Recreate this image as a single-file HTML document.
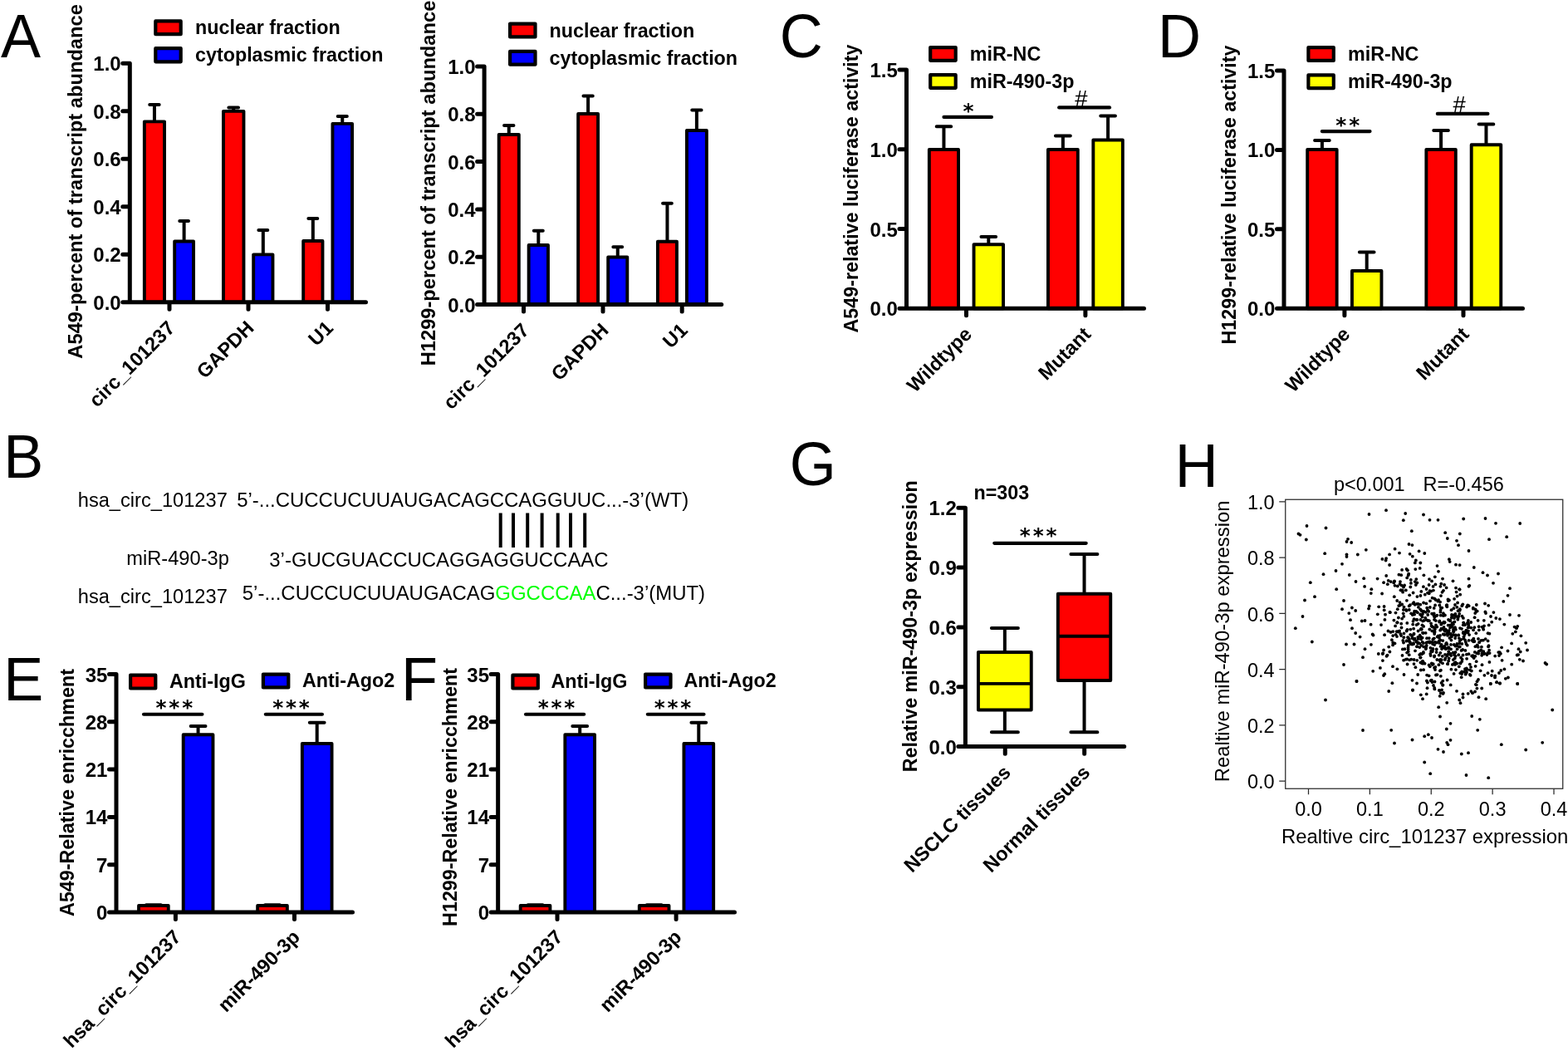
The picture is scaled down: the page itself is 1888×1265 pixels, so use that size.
<!DOCTYPE html>
<html><head><meta charset="utf-8"><style>html,body{margin:0;padding:0;background:#fff;}svg{display:block;}</style></head>
<body><svg width="1888" height="1265" viewBox="0 0 1888 1265">
<rect width="1888" height="1265" fill="#fff"/>
<path d="M185.95,144.40V125.90M180.22,125.90H191.68" stroke="#000" stroke-width="4.0" stroke-linecap="round" fill="none"/>
<rect x="173.85" y="146.35" width="24.20" height="217.40" fill="#f00" stroke="#000" stroke-width="3.9" stroke-linejoin="round"/>
<path d="M221.62,288.50V266.00M216.27,266.00H226.98" stroke="#000" stroke-width="4.0" stroke-linecap="round" fill="none"/>
<rect x="210.20" y="290.45" width="22.85" height="73.30" fill="#00f" stroke="#000" stroke-width="3.9" stroke-linejoin="round"/>
<path d="M281.20,131.90V129.60M275.39,129.60H287.01" stroke="#000" stroke-width="4.0" stroke-linecap="round" fill="none"/>
<rect x="268.95" y="133.85" width="24.50" height="229.90" fill="#f00" stroke="#000" stroke-width="3.9" stroke-linejoin="round"/>
<path d="M316.82,304.40V276.90M311.36,276.90H322.29" stroke="#000" stroke-width="4.0" stroke-linecap="round" fill="none"/>
<rect x="305.20" y="306.35" width="23.25" height="57.40" fill="#00f" stroke="#000" stroke-width="3.9" stroke-linejoin="round"/>
<path d="M376.82,288.10V263.10M371.36,263.10H382.29" stroke="#000" stroke-width="4.0" stroke-linecap="round" fill="none"/>
<rect x="365.20" y="290.05" width="23.25" height="73.70" fill="#f00" stroke="#000" stroke-width="3.9" stroke-linejoin="round"/>
<path d="M412.25,146.90V140.00M406.69,140.00H417.81" stroke="#000" stroke-width="4.0" stroke-linecap="round" fill="none"/>
<rect x="400.45" y="148.85" width="23.60" height="214.90" fill="#00f" stroke="#000" stroke-width="3.9" stroke-linejoin="round"/>
<path d="M156.30,363.75V76.20M156.30,363.75H147.80M156.30,306.24H147.80M156.30,248.73H147.80M156.30,191.22H147.80M156.30,133.71H147.80M156.30,76.20H147.80M148.20,363.75H440.50M204.00,363.75V372.25M299.00,363.75V372.25M394.50,363.75V372.25" stroke="#000" stroke-width="5.0" stroke-linecap="round" fill="none"/>
<text x="145.70" y="372.75" text-anchor="end" font-family="Liberation Sans, Arial, sans-serif" font-weight="bold" font-size="24">0.0</text>
<text x="145.70" y="315.24" text-anchor="end" font-family="Liberation Sans, Arial, sans-serif" font-weight="bold" font-size="24">0.2</text>
<text x="145.70" y="257.73" text-anchor="end" font-family="Liberation Sans, Arial, sans-serif" font-weight="bold" font-size="24">0.4</text>
<text x="145.70" y="200.22" text-anchor="end" font-family="Liberation Sans, Arial, sans-serif" font-weight="bold" font-size="24">0.6</text>
<text x="145.70" y="142.71" text-anchor="end" font-family="Liberation Sans, Arial, sans-serif" font-weight="bold" font-size="24">0.8</text>
<text x="145.70" y="85.20" text-anchor="end" font-family="Liberation Sans, Arial, sans-serif" font-weight="bold" font-size="24">1.0</text>
<text transform="translate(212.00,396.25) rotate(-45)" text-anchor="end" font-family="Liberation Sans, Arial, sans-serif" font-weight="bold" font-size="23.7">circ_101237</text>
<text transform="translate(307.00,396.25) rotate(-45)" text-anchor="end" font-family="Liberation Sans, Arial, sans-serif" font-weight="bold" font-size="23.7">GAPDH</text>
<text transform="translate(402.50,396.25) rotate(-45)" text-anchor="end" font-family="Liberation Sans, Arial, sans-serif" font-weight="bold" font-size="23.7">U1</text>
<text transform="translate(98.80,218.40) rotate(-90)" text-anchor="middle" font-family="Liberation Sans, Arial, sans-serif" font-weight="bold" font-size="23.7">A549-percent of transcript abundance</text>
<rect x="187.30" y="25.40" width="30.40" height="15.80" fill="#f00" stroke="#000" stroke-width="4.2" stroke-linejoin="round"/>
<text x="235.00" y="41.25" font-family="Liberation Sans, Arial, sans-serif" font-weight="bold" font-size="23.3">nuclear fraction</text>
<rect x="187.30" y="58.20" width="30.40" height="16.10" fill="#00f" stroke="#000" stroke-width="4.2" stroke-linejoin="round"/>
<text x="235.00" y="73.75" font-family="Liberation Sans, Arial, sans-serif" font-weight="bold" font-size="23.3">cytoplasmic fraction</text>
<path d="M612.75,160.00V151.00M607.05,151.00H618.45" stroke="#000" stroke-width="4.0" stroke-linecap="round" fill="none"/>
<rect x="600.70" y="161.95" width="24.10" height="204.55" fill="#f00" stroke="#000" stroke-width="3.9" stroke-linejoin="round"/>
<path d="M648.30,293.10V277.75M642.82,277.75H653.78" stroke="#000" stroke-width="4.0" stroke-linecap="round" fill="none"/>
<rect x="636.65" y="295.05" width="23.30" height="71.45" fill="#00f" stroke="#000" stroke-width="3.9" stroke-linejoin="round"/>
<path d="M708.10,135.00V115.40M702.46,115.40H713.75" stroke="#000" stroke-width="4.0" stroke-linecap="round" fill="none"/>
<rect x="696.15" y="136.95" width="23.90" height="229.55" fill="#f00" stroke="#000" stroke-width="3.9" stroke-linejoin="round"/>
<path d="M743.75,307.50V297.25M738.33,297.25H749.17" stroke="#000" stroke-width="4.0" stroke-linecap="round" fill="none"/>
<rect x="732.20" y="309.45" width="23.10" height="57.05" fill="#00f" stroke="#000" stroke-width="3.9" stroke-linejoin="round"/>
<path d="M803.45,288.75V244.75M798.05,244.75H808.85" stroke="#000" stroke-width="4.0" stroke-linecap="round" fill="none"/>
<rect x="791.95" y="290.70" width="23.00" height="75.80" fill="#f00" stroke="#000" stroke-width="3.9" stroke-linejoin="round"/>
<path d="M838.90,155.00V132.60M833.25,132.60H844.54" stroke="#000" stroke-width="4.0" stroke-linecap="round" fill="none"/>
<rect x="826.95" y="156.95" width="23.90" height="209.55" fill="#00f" stroke="#000" stroke-width="3.9" stroke-linejoin="round"/>
<path d="M583.10,366.50V80.00M583.10,366.50H574.60M583.10,309.20H574.60M583.10,251.90H574.60M583.10,194.60H574.60M583.10,137.30H574.60M583.10,80.00H574.60M574.90,366.50H868.75M630.50,366.50V375.00M726.00,366.50V375.00M821.20,366.50V375.00" stroke="#000" stroke-width="5.0" stroke-linecap="round" fill="none"/>
<text x="572.50" y="375.50" text-anchor="end" font-family="Liberation Sans, Arial, sans-serif" font-weight="bold" font-size="24">0.0</text>
<text x="572.50" y="318.20" text-anchor="end" font-family="Liberation Sans, Arial, sans-serif" font-weight="bold" font-size="24">0.2</text>
<text x="572.50" y="260.90" text-anchor="end" font-family="Liberation Sans, Arial, sans-serif" font-weight="bold" font-size="24">0.4</text>
<text x="572.50" y="203.60" text-anchor="end" font-family="Liberation Sans, Arial, sans-serif" font-weight="bold" font-size="24">0.6</text>
<text x="572.50" y="146.30" text-anchor="end" font-family="Liberation Sans, Arial, sans-serif" font-weight="bold" font-size="24">0.8</text>
<text x="572.50" y="89.00" text-anchor="end" font-family="Liberation Sans, Arial, sans-serif" font-weight="bold" font-size="24">1.0</text>
<text transform="translate(638.50,399.00) rotate(-45)" text-anchor="end" font-family="Liberation Sans, Arial, sans-serif" font-weight="bold" font-size="23.7">circ_101237</text>
<text transform="translate(734.00,399.00) rotate(-45)" text-anchor="end" font-family="Liberation Sans, Arial, sans-serif" font-weight="bold" font-size="23.7">GAPDH</text>
<text transform="translate(829.20,399.00) rotate(-45)" text-anchor="end" font-family="Liberation Sans, Arial, sans-serif" font-weight="bold" font-size="23.7">U1</text>
<text transform="translate(523.50,220.50) rotate(-90)" text-anchor="middle" font-family="Liberation Sans, Arial, sans-serif" font-weight="bold" font-size="23.7">H1299-percent of transcript abundance</text>
<rect x="614.10" y="28.60" width="30.40" height="15.80" fill="#f00" stroke="#000" stroke-width="4.2" stroke-linejoin="round"/>
<text x="661.50" y="44.50" font-family="Liberation Sans, Arial, sans-serif" font-weight="bold" font-size="23.3">nuclear fraction</text>
<rect x="614.10" y="61.90" width="30.40" height="15.80" fill="#00f" stroke="#000" stroke-width="4.2" stroke-linejoin="round"/>
<text x="661.50" y="77.50" font-family="Liberation Sans, Arial, sans-serif" font-weight="bold" font-size="23.3">cytoplasmic fraction</text>
<path d="M1136.45,178.10V152.25M1127.70,152.25H1145.20" stroke="#000" stroke-width="4.0" stroke-linecap="round" fill="none"/>
<rect x="1118.85" y="180.05" width="35.20" height="191.20" fill="#f00" stroke="#000" stroke-width="3.9" stroke-linejoin="round"/>
<path d="M1190.30,292.25V285.00M1181.46,285.00H1199.13" stroke="#000" stroke-width="4.0" stroke-linecap="round" fill="none"/>
<rect x="1172.55" y="294.20" width="35.50" height="77.05" fill="#ff0" stroke="#000" stroke-width="3.9" stroke-linejoin="round"/>
<path d="M1279.88,178.10V163.50M1270.94,163.50H1288.81" stroke="#000" stroke-width="4.0" stroke-linecap="round" fill="none"/>
<rect x="1261.95" y="180.05" width="35.85" height="191.20" fill="#f00" stroke="#000" stroke-width="3.9" stroke-linejoin="round"/>
<path d="M1334.10,166.60V139.40M1325.26,139.40H1342.93" stroke="#000" stroke-width="4.0" stroke-linecap="round" fill="none"/>
<rect x="1316.35" y="168.55" width="35.50" height="202.70" fill="#ff0" stroke="#000" stroke-width="3.9" stroke-linejoin="round"/>
<path d="M1091.50,371.25V84.00M1091.50,371.25H1083.00M1091.50,275.50H1083.00M1091.50,179.75H1083.00M1091.50,84.00H1083.00M1084.00,371.25H1377.50M1163.50,371.25V379.75M1306.90,371.25V379.75" stroke="#000" stroke-width="5.0" stroke-linecap="round" fill="none"/>
<text x="1080.90" y="380.25" text-anchor="end" font-family="Liberation Sans, Arial, sans-serif" font-weight="bold" font-size="24">0.0</text>
<text x="1080.90" y="284.50" text-anchor="end" font-family="Liberation Sans, Arial, sans-serif" font-weight="bold" font-size="24">0.5</text>
<text x="1080.90" y="188.75" text-anchor="end" font-family="Liberation Sans, Arial, sans-serif" font-weight="bold" font-size="24">1.0</text>
<text x="1080.90" y="93.00" text-anchor="end" font-family="Liberation Sans, Arial, sans-serif" font-weight="bold" font-size="24">1.5</text>
<text transform="translate(1171.50,403.75) rotate(-45)" text-anchor="end" font-family="Liberation Sans, Arial, sans-serif" font-weight="bold" font-size="23.7">Wildtype</text>
<text transform="translate(1314.90,403.75) rotate(-45)" text-anchor="end" font-family="Liberation Sans, Arial, sans-serif" font-weight="bold" font-size="23.7">Mutant</text>
<text transform="translate(1032.50,227.00) rotate(-90)" text-anchor="middle" font-family="Liberation Sans, Arial, sans-serif" font-weight="bold" font-size="23.3">A549-relative luciferase activity</text>
<rect x="1120.20" y="57.10" width="30.50" height="15.70" fill="#f00" stroke="#000" stroke-width="4.2" stroke-linejoin="round"/>
<text x="1167.80" y="72.50" font-family="Liberation Sans, Arial, sans-serif" font-weight="bold" font-size="23.3">miR-NC</text>
<rect x="1120.20" y="90.20" width="30.50" height="15.60" fill="#ff0" stroke="#000" stroke-width="4.2" stroke-linejoin="round"/>
<text x="1167.80" y="105.60" font-family="Liberation Sans, Arial, sans-serif" font-weight="bold" font-size="23.3">miR-490-3p</text>
<path d="M1136.50,140.90H1193.90" stroke="#000" stroke-width="4.2" stroke-linecap="round"/>
<text x="1166.10" y="141.50" text-anchor="middle" font-family="DejaVu Sans, sans-serif" font-weight="bold" font-size="24.8">*</text>
<path d="M1275.20,129.40H1336.00" stroke="#000" stroke-width="4.2" stroke-linecap="round"/>
<text x="1301.80" y="127.80" text-anchor="middle" font-family="Liberation Sans, Arial, sans-serif" font-size="27.5">#</text>
<path d="M1591.92,178.10V169.00M1583.10,169.00H1600.75" stroke="#000" stroke-width="4.0" stroke-linecap="round" fill="none"/>
<rect x="1574.20" y="180.05" width="35.45" height="191.20" fill="#f00" stroke="#000" stroke-width="3.9" stroke-linejoin="round"/>
<path d="M1645.70,324.00V303.50M1636.87,303.50H1654.54" stroke="#000" stroke-width="4.0" stroke-linecap="round" fill="none"/>
<rect x="1627.95" y="325.95" width="35.50" height="45.30" fill="#ff0" stroke="#000" stroke-width="3.9" stroke-linejoin="round"/>
<path d="M1735.08,178.10V157.10M1726.25,157.10H1743.90" stroke="#000" stroke-width="4.0" stroke-linecap="round" fill="none"/>
<rect x="1717.35" y="180.05" width="35.45" height="191.20" fill="#f00" stroke="#000" stroke-width="3.9" stroke-linejoin="round"/>
<path d="M1789.47,172.25V149.60M1780.63,149.60H1798.32" stroke="#000" stroke-width="4.0" stroke-linecap="round" fill="none"/>
<rect x="1771.70" y="174.20" width="35.55" height="197.05" fill="#ff0" stroke="#000" stroke-width="3.9" stroke-linejoin="round"/>
<path d="M1546.00,371.25V85.00M1546.00,371.25H1537.50M1546.00,275.83H1537.50M1546.00,180.42H1537.50M1546.00,85.00H1537.50M1539.00,371.25H1833.50M1618.90,371.25V379.75M1762.00,371.25V379.75" stroke="#000" stroke-width="5.0" stroke-linecap="round" fill="none"/>
<text x="1535.40" y="380.25" text-anchor="end" font-family="Liberation Sans, Arial, sans-serif" font-weight="bold" font-size="24">0.0</text>
<text x="1535.40" y="284.83" text-anchor="end" font-family="Liberation Sans, Arial, sans-serif" font-weight="bold" font-size="24">0.5</text>
<text x="1535.40" y="189.42" text-anchor="end" font-family="Liberation Sans, Arial, sans-serif" font-weight="bold" font-size="24">1.0</text>
<text x="1535.40" y="94.00" text-anchor="end" font-family="Liberation Sans, Arial, sans-serif" font-weight="bold" font-size="24">1.5</text>
<text transform="translate(1626.90,403.75) rotate(-45)" text-anchor="end" font-family="Liberation Sans, Arial, sans-serif" font-weight="bold" font-size="23.7">Wildtype</text>
<text transform="translate(1770.00,403.75) rotate(-45)" text-anchor="end" font-family="Liberation Sans, Arial, sans-serif" font-weight="bold" font-size="23.7">Mutant</text>
<text transform="translate(1488.40,234.50) rotate(-90)" text-anchor="middle" font-family="Liberation Sans, Arial, sans-serif" font-weight="bold" font-size="23.3">H1299-relative luciferase activity</text>
<rect x="1575.40" y="57.10" width="30.40" height="15.80" fill="#f00" stroke="#000" stroke-width="4.2" stroke-linejoin="round"/>
<text x="1623.00" y="72.50" font-family="Liberation Sans, Arial, sans-serif" font-weight="bold" font-size="23.3">miR-NC</text>
<rect x="1575.40" y="90.30" width="30.40" height="15.80" fill="#ff0" stroke="#000" stroke-width="4.2" stroke-linejoin="round"/>
<text x="1623.00" y="105.60" font-family="Liberation Sans, Arial, sans-serif" font-weight="bold" font-size="23.3">miR-490-3p</text>
<path d="M1591.85,158.10H1649.50" stroke="#000" stroke-width="4.2" stroke-linecap="round"/>
<text x="1614.85" y="159.00" text-anchor="middle" font-family="DejaVu Sans, sans-serif" font-weight="bold" font-size="24.8">*</text>
<text x="1630.85" y="159.00" text-anchor="middle" font-family="DejaVu Sans, sans-serif" font-weight="bold" font-size="24.8">*</text>
<path d="M1730.85,136.90H1791.40" stroke="#000" stroke-width="4.2" stroke-linecap="round"/>
<text x="1757.15" y="135.20" text-anchor="middle" font-family="Liberation Sans, Arial, sans-serif" font-size="27.5">#</text>
<path d="M176.01,1089.20H193.79" stroke="#000" stroke-width="4.0" stroke-linecap="round" fill="none"/>
<rect x="167.05" y="1090.05" width="35.70" height="7.95" fill="#f00" stroke="#000" stroke-width="3.9" stroke-linejoin="round"/>
<path d="M238.57,882.25V874.00M229.67,874.00H247.48" stroke="#000" stroke-width="4.0" stroke-linecap="round" fill="none"/>
<rect x="220.70" y="884.20" width="35.75" height="213.80" fill="#00f" stroke="#000" stroke-width="3.9" stroke-linejoin="round"/>
<path d="M319.11,1089.20H336.89" stroke="#000" stroke-width="4.0" stroke-linecap="round" fill="none"/>
<rect x="310.15" y="1090.05" width="35.70" height="7.95" fill="#f00" stroke="#000" stroke-width="3.9" stroke-linejoin="round"/>
<path d="M381.70,893.10V869.75M372.81,869.75H390.59" stroke="#000" stroke-width="4.0" stroke-linecap="round" fill="none"/>
<rect x="363.85" y="895.05" width="35.70" height="202.95" fill="#00f" stroke="#000" stroke-width="3.9" stroke-linejoin="round"/>
<path d="M140.00,1098.00V811.50M140.00,1098.00H131.50M140.00,1040.70H131.50M140.00,983.40H131.50M140.00,926.10H131.50M140.00,868.80H131.50M140.00,811.50H131.50M132.50,1098.00H424.50M211.40,1098.00V1106.50M354.50,1098.00V1106.50" stroke="#000" stroke-width="5.0" stroke-linecap="round" fill="none"/>
<text x="129.40" y="1107.00" text-anchor="end" font-family="Liberation Sans, Arial, sans-serif" font-weight="bold" font-size="24">0</text>
<text x="129.40" y="1049.70" text-anchor="end" font-family="Liberation Sans, Arial, sans-serif" font-weight="bold" font-size="24">7</text>
<text x="129.40" y="992.40" text-anchor="end" font-family="Liberation Sans, Arial, sans-serif" font-weight="bold" font-size="24">14</text>
<text x="129.40" y="935.10" text-anchor="end" font-family="Liberation Sans, Arial, sans-serif" font-weight="bold" font-size="24">21</text>
<text x="129.40" y="877.80" text-anchor="end" font-family="Liberation Sans, Arial, sans-serif" font-weight="bold" font-size="24">28</text>
<text x="129.40" y="820.50" text-anchor="end" font-family="Liberation Sans, Arial, sans-serif" font-weight="bold" font-size="24">35</text>
<text transform="translate(219.40,1129.20) rotate(-45)" text-anchor="end" font-family="Liberation Sans, Arial, sans-serif" font-weight="bold" font-size="23.7">hsa_circ_101237</text>
<text transform="translate(362.50,1129.20) rotate(-45)" text-anchor="end" font-family="Liberation Sans, Arial, sans-serif" font-weight="bold" font-size="23.7">miR-490-3p</text>
<text transform="translate(88.75,954.00) rotate(-90)" text-anchor="middle" font-family="Liberation Sans, Arial, sans-serif" font-weight="bold" font-size="23.3">A549-Relative enricchment</text>
<rect x="157.10" y="812.70" width="30.20" height="15.80" fill="#f00" stroke="#000" stroke-width="4.2" stroke-linejoin="round"/>
<text x="204.00" y="827.50" font-family="Liberation Sans, Arial, sans-serif" font-weight="bold" font-size="23.3">Anti-IgG</text>
<rect x="316.90" y="811.60" width="30.40" height="15.80" fill="#00f" stroke="#000" stroke-width="4.2" stroke-linejoin="round"/>
<text x="364.00" y="826.80" font-family="Liberation Sans, Arial, sans-serif" font-weight="bold" font-size="23.3">Anti-Ago2</text>
<path d="M173.00,859.75H243.40" stroke="#000" stroke-width="4.2" stroke-linecap="round"/>
<text x="193.90" y="860.40" text-anchor="middle" font-family="DejaVu Sans, sans-serif" font-weight="bold" font-size="24.8">*</text>
<text x="209.80" y="860.40" text-anchor="middle" font-family="DejaVu Sans, sans-serif" font-weight="bold" font-size="24.8">*</text>
<text x="225.70" y="860.40" text-anchor="middle" font-family="DejaVu Sans, sans-serif" font-weight="bold" font-size="24.8">*</text>
<path d="M319.85,859.75H387.90" stroke="#000" stroke-width="4.2" stroke-linecap="round"/>
<text x="334.85" y="860.30" text-anchor="middle" font-family="DejaVu Sans, sans-serif" font-weight="bold" font-size="24.8">*</text>
<text x="350.60" y="860.30" text-anchor="middle" font-family="DejaVu Sans, sans-serif" font-weight="bold" font-size="24.8">*</text>
<text x="366.35" y="860.30" text-anchor="middle" font-family="DejaVu Sans, sans-serif" font-weight="bold" font-size="24.8">*</text>
<path d="M635.66,1089.20H653.44" stroke="#000" stroke-width="4.0" stroke-linecap="round" fill="none"/>
<rect x="626.70" y="1090.05" width="35.70" height="7.95" fill="#f00" stroke="#000" stroke-width="3.9" stroke-linejoin="round"/>
<path d="M698.20,882.25V874.00M689.31,874.00H707.09" stroke="#000" stroke-width="4.0" stroke-linecap="round" fill="none"/>
<rect x="680.35" y="884.20" width="35.70" height="213.80" fill="#00f" stroke="#000" stroke-width="3.9" stroke-linejoin="round"/>
<path d="M778.76,1089.20H796.54" stroke="#000" stroke-width="4.0" stroke-linecap="round" fill="none"/>
<rect x="769.80" y="1090.05" width="35.70" height="7.95" fill="#f00" stroke="#000" stroke-width="3.9" stroke-linejoin="round"/>
<path d="M841.30,893.10V869.75M832.41,869.75H850.19" stroke="#000" stroke-width="4.0" stroke-linecap="round" fill="none"/>
<rect x="823.45" y="895.05" width="35.70" height="202.95" fill="#00f" stroke="#000" stroke-width="3.9" stroke-linejoin="round"/>
<path d="M599.65,1098.00V811.50M599.65,1098.00H591.15M599.65,1040.70H591.15M599.65,983.40H591.15M599.65,926.10H591.15M599.65,868.80H591.15M599.65,811.50H591.15M592.10,1098.00H884.50M671.00,1098.00V1106.50M814.10,1098.00V1106.50" stroke="#000" stroke-width="5.0" stroke-linecap="round" fill="none"/>
<text x="589.05" y="1107.00" text-anchor="end" font-family="Liberation Sans, Arial, sans-serif" font-weight="bold" font-size="24">0</text>
<text x="589.05" y="1049.70" text-anchor="end" font-family="Liberation Sans, Arial, sans-serif" font-weight="bold" font-size="24">7</text>
<text x="589.05" y="992.40" text-anchor="end" font-family="Liberation Sans, Arial, sans-serif" font-weight="bold" font-size="24">14</text>
<text x="589.05" y="935.10" text-anchor="end" font-family="Liberation Sans, Arial, sans-serif" font-weight="bold" font-size="24">21</text>
<text x="589.05" y="877.80" text-anchor="end" font-family="Liberation Sans, Arial, sans-serif" font-weight="bold" font-size="24">28</text>
<text x="589.05" y="820.50" text-anchor="end" font-family="Liberation Sans, Arial, sans-serif" font-weight="bold" font-size="24">35</text>
<text transform="translate(679.00,1129.20) rotate(-45)" text-anchor="end" font-family="Liberation Sans, Arial, sans-serif" font-weight="bold" font-size="23.7">hsa_circ_101237</text>
<text transform="translate(822.10,1129.20) rotate(-45)" text-anchor="end" font-family="Liberation Sans, Arial, sans-serif" font-weight="bold" font-size="23.7">miR-490-3p</text>
<text transform="translate(550.00,959.50) rotate(-90)" text-anchor="middle" font-family="Liberation Sans, Arial, sans-serif" font-weight="bold" font-size="23.3">H1299-Relative enricchment</text>
<rect x="617.40" y="812.70" width="30.40" height="15.80" fill="#f00" stroke="#000" stroke-width="4.2" stroke-linejoin="round"/>
<text x="663.50" y="827.50" font-family="Liberation Sans, Arial, sans-serif" font-weight="bold" font-size="23.3">Anti-IgG</text>
<rect x="777.10" y="811.60" width="30.40" height="15.80" fill="#00f" stroke="#000" stroke-width="4.2" stroke-linejoin="round"/>
<text x="823.50" y="826.80" font-family="Liberation Sans, Arial, sans-serif" font-weight="bold" font-size="23.3">Anti-Ago2</text>
<path d="M633.00,859.75H703.15" stroke="#000" stroke-width="4.2" stroke-linecap="round"/>
<text x="654.35" y="860.40" text-anchor="middle" font-family="DejaVu Sans, sans-serif" font-weight="bold" font-size="24.8">*</text>
<text x="670.10" y="860.40" text-anchor="middle" font-family="DejaVu Sans, sans-serif" font-weight="bold" font-size="24.8">*</text>
<text x="685.85" y="860.40" text-anchor="middle" font-family="DejaVu Sans, sans-serif" font-weight="bold" font-size="24.8">*</text>
<path d="M779.85,859.75H847.50" stroke="#000" stroke-width="4.2" stroke-linecap="round"/>
<text x="794.35" y="860.40" text-anchor="middle" font-family="DejaVu Sans, sans-serif" font-weight="bold" font-size="24.8">*</text>
<text x="810.10" y="860.40" text-anchor="middle" font-family="DejaVu Sans, sans-serif" font-weight="bold" font-size="24.8">*</text>
<text x="825.85" y="860.40" text-anchor="middle" font-family="DejaVu Sans, sans-serif" font-weight="bold" font-size="24.8">*</text>
<path d="M1209.85,756.10V881.30M1193.90,756.10H1225.90M1193.90,881.30H1225.90" stroke="#000" stroke-width="4" stroke-linecap="round" fill="none"/>
<rect x="1177.95" y="785.05" width="63.80" height="69.40" fill="#ff0" stroke="#000" stroke-width="3.9" stroke-linejoin="round"/>
<path d="M1177.95,822.90H1241.75" stroke="#000" stroke-width="3.9"/>
<path d="M1305.55,667.10V881.30M1289.40,667.10H1321.40M1289.40,881.30H1321.40" stroke="#000" stroke-width="4" stroke-linecap="round" fill="none"/>
<rect x="1273.85" y="714.75" width="63.40" height="104.20" fill="#f00" stroke="#000" stroke-width="3.9" stroke-linejoin="round"/>
<path d="M1273.85,765.80H1337.25" stroke="#000" stroke-width="3.9"/>
<path d="M1162.4,898.6V611.25M1162.4,898.60H1153.9M1162.4,826.76H1153.9M1162.4,754.92H1153.9M1162.4,683.09H1153.9M1162.4,611.25H1153.9M1154.9,898.6H1353.7M1210.25,898.6V907.2M1305.7,898.6V907.2" stroke="#000" stroke-width="5" stroke-linecap="round" fill="none"/>
<text x="1151.80" y="907.60" text-anchor="end" font-family="Liberation Sans, Arial, sans-serif" font-weight="bold" font-size="24">0.0</text>
<text x="1151.80" y="835.76" text-anchor="end" font-family="Liberation Sans, Arial, sans-serif" font-weight="bold" font-size="24">0.3</text>
<text x="1151.80" y="763.92" text-anchor="end" font-family="Liberation Sans, Arial, sans-serif" font-weight="bold" font-size="24">0.6</text>
<text x="1151.80" y="692.09" text-anchor="end" font-family="Liberation Sans, Arial, sans-serif" font-weight="bold" font-size="24">0.9</text>
<text x="1151.80" y="620.25" text-anchor="end" font-family="Liberation Sans, Arial, sans-serif" font-weight="bold" font-size="24">1.2</text>
<path d="M1197.30,653.80H1307.70" stroke="#000" stroke-width="4.2" stroke-linecap="round"/>
<text x="1234.30" y="653.05" text-anchor="middle" font-family="DejaVu Sans, sans-serif" font-weight="bold" font-size="24.8">*</text>
<text x="1250.20" y="653.05" text-anchor="middle" font-family="DejaVu Sans, sans-serif" font-weight="bold" font-size="24.8">*</text>
<text x="1266.00" y="653.05" text-anchor="middle" font-family="DejaVu Sans, sans-serif" font-weight="bold" font-size="24.8">*</text>
<text x="1172.5" y="601" font-family="Liberation Sans, Arial, sans-serif" font-weight="bold" font-size="23.3">n=303</text>
<text transform="translate(1104,753.8) rotate(-90)" text-anchor="middle" font-family="Liberation Sans, Arial, sans-serif" font-weight="bold" font-size="23.3">Relative miR-490-3p expression</text>
<text transform="translate(1218.25,931.1) rotate(-45)" text-anchor="end" font-family="Liberation Sans, Arial, sans-serif" font-weight="bold" font-size="23.7">NSCLC tissues</text>
<text transform="translate(1313.7,931.1) rotate(-45)" text-anchor="end" font-family="Liberation Sans, Arial, sans-serif" font-weight="bold" font-size="23.7">Normal tissues</text>
<g fill="#000"><circle cx="1694.3" cy="749.9" r="1.9"/><circle cx="1776.3" cy="789.8" r="1.9"/><circle cx="1690.4" cy="762.4" r="1.9"/><circle cx="1757.2" cy="738.8" r="1.9"/><circle cx="1694.6" cy="799.5" r="1.9"/><circle cx="1765.6" cy="758.7" r="1.9"/><circle cx="1796.2" cy="748.7" r="1.9"/><circle cx="1735.7" cy="776.0" r="1.9"/><circle cx="1710.5" cy="797.5" r="1.9"/><circle cx="1743.0" cy="764.8" r="1.9"/><circle cx="1726.8" cy="768.3" r="1.9"/><circle cx="1749.6" cy="749.6" r="1.9"/><circle cx="1780.0" cy="768.9" r="1.9"/><circle cx="1673.4" cy="736.9" r="1.9"/><circle cx="1687.1" cy="765.0" r="1.9"/><circle cx="1685.1" cy="759.5" r="1.9"/><circle cx="1710.7" cy="757.5" r="1.9"/><circle cx="1770.6" cy="812.8" r="1.9"/><circle cx="1728.9" cy="747.1" r="1.9"/><circle cx="1736.1" cy="757.0" r="1.9"/><circle cx="1743.3" cy="799.0" r="1.9"/><circle cx="1760.3" cy="796.0" r="1.9"/><circle cx="1808.6" cy="794.8" r="1.9"/><circle cx="1764.8" cy="772.6" r="1.9"/><circle cx="1774.7" cy="792.1" r="1.9"/><circle cx="1776.4" cy="778.2" r="1.9"/><circle cx="1786.2" cy="757.7" r="1.9"/><circle cx="1744.7" cy="792.5" r="1.9"/><circle cx="1767.9" cy="759.3" r="1.9"/><circle cx="1800.2" cy="789.6" r="1.9"/><circle cx="1760.0" cy="756.8" r="1.9"/><circle cx="1750.0" cy="764.0" r="1.9"/><circle cx="1746.2" cy="787.4" r="1.9"/><circle cx="1702.0" cy="774.1" r="1.9"/><circle cx="1761.3" cy="727.3" r="1.9"/><circle cx="1775.6" cy="743.2" r="1.9"/><circle cx="1768.2" cy="752.5" r="1.9"/><circle cx="1746.3" cy="746.7" r="1.9"/><circle cx="1805.0" cy="789.0" r="1.9"/><circle cx="1713.9" cy="706.2" r="1.9"/><circle cx="1748.5" cy="741.2" r="1.9"/><circle cx="1771.8" cy="807.5" r="1.9"/><circle cx="1746.0" cy="747.3" r="1.9"/><circle cx="1744.2" cy="795.5" r="1.9"/><circle cx="1735.4" cy="756.7" r="1.9"/><circle cx="1780.7" cy="754.2" r="1.9"/><circle cx="1741.7" cy="728.7" r="1.9"/><circle cx="1711.4" cy="740.4" r="1.9"/><circle cx="1780.6" cy="783.9" r="1.9"/><circle cx="1673.4" cy="784.5" r="1.9"/><circle cx="1748.3" cy="754.3" r="1.9"/><circle cx="1796.7" cy="807.7" r="1.9"/><circle cx="1739.6" cy="749.3" r="1.9"/><circle cx="1733.7" cy="837.8" r="1.9"/><circle cx="1769.3" cy="704.8" r="1.9"/><circle cx="1776.6" cy="801.8" r="1.9"/><circle cx="1724.3" cy="759.4" r="1.9"/><circle cx="1831.4" cy="765.3" r="1.9"/><circle cx="1743.7" cy="723.0" r="1.9"/><circle cx="1736.5" cy="712.8" r="1.9"/><circle cx="1714.2" cy="778.4" r="1.9"/><circle cx="1766.1" cy="730.6" r="1.9"/><circle cx="1763.7" cy="763.5" r="1.9"/><circle cx="1672.2" cy="778.6" r="1.9"/><circle cx="1716.9" cy="780.6" r="1.9"/><circle cx="1761.2" cy="782.0" r="1.9"/><circle cx="1768.6" cy="770.8" r="1.9"/><circle cx="1727.2" cy="763.0" r="1.9"/><circle cx="1755.3" cy="745.7" r="1.9"/><circle cx="1721.9" cy="772.5" r="1.9"/><circle cx="1689.1" cy="712.7" r="1.9"/><circle cx="1793.1" cy="782.6" r="1.9"/><circle cx="1721.8" cy="802.3" r="1.9"/><circle cx="1745.8" cy="763.4" r="1.9"/><circle cx="1820.1" cy="774.4" r="1.9"/><circle cx="1710.8" cy="836.3" r="1.9"/><circle cx="1791.6" cy="771.4" r="1.9"/><circle cx="1680.1" cy="753.4" r="1.9"/><circle cx="1780.8" cy="758.3" r="1.9"/><circle cx="1733.0" cy="830.9" r="1.9"/><circle cx="1734.8" cy="813.8" r="1.9"/><circle cx="1761.5" cy="835.5" r="1.9"/><circle cx="1706.0" cy="726.9" r="1.9"/><circle cx="1800.2" cy="813.5" r="1.9"/><circle cx="1682.8" cy="733.2" r="1.9"/><circle cx="1771.0" cy="802.9" r="1.9"/><circle cx="1713.9" cy="784.9" r="1.9"/><circle cx="1695.6" cy="781.5" r="1.9"/><circle cx="1785.7" cy="755.6" r="1.9"/><circle cx="1815.5" cy="783.5" r="1.9"/><circle cx="1734.5" cy="796.8" r="1.9"/><circle cx="1734.9" cy="806.7" r="1.9"/><circle cx="1673.9" cy="737.1" r="1.9"/><circle cx="1792.7" cy="752.4" r="1.9"/><circle cx="1788.7" cy="769.1" r="1.9"/><circle cx="1713.0" cy="761.6" r="1.9"/><circle cx="1725.7" cy="799.2" r="1.9"/><circle cx="1677.0" cy="802.2" r="1.9"/><circle cx="1739.3" cy="764.0" r="1.9"/><circle cx="1722.0" cy="723.3" r="1.9"/><circle cx="1746.1" cy="752.3" r="1.9"/><circle cx="1784.5" cy="800.2" r="1.9"/><circle cx="1666.7" cy="734.3" r="1.9"/><circle cx="1714.1" cy="725.5" r="1.9"/><circle cx="1752.0" cy="740.7" r="1.9"/><circle cx="1767.7" cy="834.8" r="1.9"/><circle cx="1766.1" cy="792.8" r="1.9"/><circle cx="1711.6" cy="776.8" r="1.9"/><circle cx="1767.9" cy="746.9" r="1.9"/><circle cx="1776.9" cy="823.8" r="1.9"/><circle cx="1717.7" cy="835.4" r="1.9"/><circle cx="1735.7" cy="750.1" r="1.9"/><circle cx="1711.3" cy="756.6" r="1.9"/><circle cx="1748.0" cy="740.0" r="1.9"/><circle cx="1709.2" cy="788.1" r="1.9"/><circle cx="1711.3" cy="711.9" r="1.9"/><circle cx="1779.8" cy="778.8" r="1.9"/><circle cx="1747.8" cy="766.5" r="1.9"/><circle cx="1747.0" cy="775.9" r="1.9"/><circle cx="1727.2" cy="803.7" r="1.9"/><circle cx="1715.8" cy="715.7" r="1.9"/><circle cx="1759.3" cy="769.8" r="1.9"/><circle cx="1731.6" cy="765.4" r="1.9"/><circle cx="1752.6" cy="789.8" r="1.9"/><circle cx="1746.8" cy="762.6" r="1.9"/><circle cx="1711.9" cy="787.4" r="1.9"/><circle cx="1702.6" cy="794.0" r="1.9"/><circle cx="1729.6" cy="785.0" r="1.9"/><circle cx="1716.6" cy="761.9" r="1.9"/><circle cx="1781.2" cy="773.1" r="1.9"/><circle cx="1734.3" cy="785.8" r="1.9"/><circle cx="1734.7" cy="740.7" r="1.9"/><circle cx="1724.9" cy="800.1" r="1.9"/><circle cx="1692.8" cy="793.7" r="1.9"/><circle cx="1688.2" cy="727.5" r="1.9"/><circle cx="1752.6" cy="777.7" r="1.9"/><circle cx="1793.4" cy="796.9" r="1.9"/><circle cx="1767.3" cy="749.3" r="1.9"/><circle cx="1682.4" cy="805.3" r="1.9"/><circle cx="1705.2" cy="736.0" r="1.9"/><circle cx="1787.4" cy="812.8" r="1.9"/><circle cx="1778.2" cy="786.2" r="1.9"/><circle cx="1725.0" cy="782.5" r="1.9"/><circle cx="1727.5" cy="820.5" r="1.9"/><circle cx="1702.5" cy="799.1" r="1.9"/><circle cx="1757.6" cy="709.5" r="1.9"/><circle cx="1675.9" cy="770.2" r="1.9"/><circle cx="1704.8" cy="704.0" r="1.9"/><circle cx="1760.6" cy="793.6" r="1.9"/><circle cx="1774.1" cy="758.3" r="1.9"/><circle cx="1679.5" cy="774.4" r="1.9"/><circle cx="1730.7" cy="766.5" r="1.9"/><circle cx="1744.4" cy="779.4" r="1.9"/><circle cx="1746.5" cy="787.0" r="1.9"/><circle cx="1706.4" cy="718.1" r="1.9"/><circle cx="1752.8" cy="757.7" r="1.9"/><circle cx="1680.6" cy="763.8" r="1.9"/><circle cx="1769.8" cy="811.8" r="1.9"/><circle cx="1780.1" cy="786.7" r="1.9"/><circle cx="1754.4" cy="774.9" r="1.9"/><circle cx="1747.6" cy="734.2" r="1.9"/><circle cx="1724.6" cy="719.7" r="1.9"/><circle cx="1710.6" cy="791.4" r="1.9"/><circle cx="1765.8" cy="804.4" r="1.9"/><circle cx="1725.8" cy="739.4" r="1.9"/><circle cx="1784.2" cy="828.5" r="1.9"/><circle cx="1758.2" cy="715.7" r="1.9"/><circle cx="1783.6" cy="782.9" r="1.9"/><circle cx="1717.3" cy="773.7" r="1.9"/><circle cx="1696.9" cy="769.4" r="1.9"/><circle cx="1732.6" cy="771.7" r="1.9"/><circle cx="1783.2" cy="782.5" r="1.9"/><circle cx="1685.7" cy="728.5" r="1.9"/><circle cx="1699.9" cy="775.3" r="1.9"/><circle cx="1734.6" cy="777.9" r="1.9"/><circle cx="1702.5" cy="769.8" r="1.9"/><circle cx="1820.2" cy="799.7" r="1.9"/><circle cx="1734.5" cy="734.4" r="1.9"/><circle cx="1767.0" cy="750.4" r="1.9"/><circle cx="1771.3" cy="832.1" r="1.9"/><circle cx="1707.6" cy="759.5" r="1.9"/><circle cx="1757.9" cy="733.2" r="1.9"/><circle cx="1756.8" cy="778.4" r="1.9"/><circle cx="1741.0" cy="775.0" r="1.9"/><circle cx="1748.6" cy="750.0" r="1.9"/><circle cx="1727.0" cy="790.6" r="1.9"/><circle cx="1707.9" cy="730.8" r="1.9"/><circle cx="1786.8" cy="746.8" r="1.9"/><circle cx="1771.2" cy="749.0" r="1.9"/><circle cx="1739.4" cy="748.8" r="1.9"/><circle cx="1700.6" cy="768.2" r="1.9"/><circle cx="1712.4" cy="742.5" r="1.9"/><circle cx="1718.1" cy="768.2" r="1.9"/><circle cx="1754.3" cy="730.8" r="1.9"/><circle cx="1710.2" cy="791.6" r="1.9"/><circle cx="1769.7" cy="806.3" r="1.9"/><circle cx="1756.2" cy="788.2" r="1.9"/><circle cx="1735.6" cy="821.9" r="1.9"/><circle cx="1765.9" cy="787.7" r="1.9"/><circle cx="1706.3" cy="701.5" r="1.9"/><circle cx="1754.6" cy="781.3" r="1.9"/><circle cx="1743.5" cy="721.5" r="1.9"/><circle cx="1738.5" cy="755.0" r="1.9"/><circle cx="1758.6" cy="798.6" r="1.9"/><circle cx="1744.3" cy="784.2" r="1.9"/><circle cx="1693.5" cy="735.1" r="1.9"/><circle cx="1764.1" cy="770.3" r="1.9"/><circle cx="1706.0" cy="822.5" r="1.9"/><circle cx="1757.4" cy="774.3" r="1.9"/><circle cx="1677.3" cy="760.1" r="1.9"/><circle cx="1683.3" cy="760.1" r="1.9"/><circle cx="1744.8" cy="758.9" r="1.9"/><circle cx="1747.5" cy="764.8" r="1.9"/><circle cx="1697.4" cy="773.0" r="1.9"/><circle cx="1720.6" cy="772.4" r="1.9"/><circle cx="1749.5" cy="751.8" r="1.9"/><circle cx="1754.3" cy="776.8" r="1.9"/><circle cx="1823.6" cy="754.6" r="1.9"/><circle cx="1678.4" cy="746.6" r="1.9"/><circle cx="1720.3" cy="735.9" r="1.9"/><circle cx="1700.5" cy="765.1" r="1.9"/><circle cx="1734.6" cy="770.6" r="1.9"/><circle cx="1717.9" cy="819.5" r="1.9"/><circle cx="1756.5" cy="741.7" r="1.9"/><circle cx="1737.0" cy="798.3" r="1.9"/><circle cx="1747.0" cy="753.0" r="1.9"/><circle cx="1733.0" cy="767.9" r="1.9"/><circle cx="1791.5" cy="810.2" r="1.9"/><circle cx="1718.9" cy="821.6" r="1.9"/><circle cx="1713.7" cy="786.2" r="1.9"/><circle cx="1704.0" cy="783.3" r="1.9"/><circle cx="1805.9" cy="785.2" r="1.9"/><circle cx="1735.3" cy="702.6" r="1.9"/><circle cx="1737.3" cy="819.6" r="1.9"/><circle cx="1754.4" cy="798.7" r="1.9"/><circle cx="1800.0" cy="815.4" r="1.9"/><circle cx="1718.1" cy="812.6" r="1.9"/><circle cx="1743.1" cy="799.2" r="1.9"/><circle cx="1737.1" cy="779.3" r="1.9"/><circle cx="1716.9" cy="736.8" r="1.9"/><circle cx="1774.1" cy="772.3" r="1.9"/><circle cx="1706.2" cy="794.8" r="1.9"/><circle cx="1749.5" cy="699.3" r="1.9"/><circle cx="1722.6" cy="789.0" r="1.9"/><circle cx="1713.7" cy="796.8" r="1.9"/><circle cx="1703.6" cy="768.7" r="1.9"/><circle cx="1792.5" cy="777.2" r="1.9"/><circle cx="1720.6" cy="813.3" r="1.9"/><circle cx="1747.4" cy="770.6" r="1.9"/><circle cx="1694.2" cy="793.3" r="1.9"/><circle cx="1737.9" cy="738.2" r="1.9"/><circle cx="1762.6" cy="766.2" r="1.9"/><circle cx="1727.6" cy="757.1" r="1.9"/><circle cx="1739.1" cy="704.0" r="1.9"/><circle cx="1697.7" cy="772.6" r="1.9"/><circle cx="1786.3" cy="784.1" r="1.9"/><circle cx="1792.1" cy="778.4" r="1.9"/><circle cx="1744.9" cy="780.4" r="1.9"/><circle cx="1688.5" cy="788.9" r="1.9"/><circle cx="1821.3" cy="762.8" r="1.9"/><circle cx="1761.9" cy="743.9" r="1.9"/><circle cx="1760.5" cy="741.7" r="1.9"/><circle cx="1729.7" cy="773.5" r="1.9"/><circle cx="1775.8" cy="784.9" r="1.9"/><circle cx="1690.3" cy="767.2" r="1.9"/><circle cx="1719.4" cy="747.0" r="1.9"/><circle cx="1712.9" cy="795.6" r="1.9"/><circle cx="1727.2" cy="720.5" r="1.9"/><circle cx="1737.7" cy="763.4" r="1.9"/><circle cx="1739.8" cy="759.8" r="1.9"/><circle cx="1773.8" cy="732.7" r="1.9"/><circle cx="1678.8" cy="718.2" r="1.9"/><circle cx="1739.4" cy="778.0" r="1.9"/><circle cx="1828.1" cy="788.1" r="1.9"/><circle cx="1811.3" cy="751.6" r="1.9"/><circle cx="1701.5" cy="747.8" r="1.9"/><circle cx="1766.7" cy="776.7" r="1.9"/><circle cx="1653.5" cy="764.6" r="1.9"/><circle cx="1732.4" cy="800.2" r="1.9"/><circle cx="1806.9" cy="786.8" r="1.9"/><circle cx="1725.0" cy="775.0" r="1.9"/><circle cx="1710.6" cy="786.8" r="1.9"/><circle cx="1743.0" cy="759.8" r="1.9"/><circle cx="1720.8" cy="768.1" r="1.9"/><circle cx="1688.2" cy="744.6" r="1.9"/><circle cx="1711.8" cy="757.6" r="1.9"/><circle cx="1706.0" cy="778.3" r="1.9"/><circle cx="1747.4" cy="805.7" r="1.9"/><circle cx="1830.7" cy="784.5" r="1.9"/><circle cx="1736.8" cy="789.8" r="1.9"/><circle cx="1798.4" cy="737.1" r="1.9"/><circle cx="1750.6" cy="810.9" r="1.9"/><circle cx="1720.9" cy="747.2" r="1.9"/><circle cx="1720.6" cy="800.5" r="1.9"/><circle cx="1695.6" cy="784.2" r="1.9"/><circle cx="1740.0" cy="787.8" r="1.9"/><circle cx="1805.0" cy="810.0" r="1.9"/><circle cx="1752.2" cy="768.0" r="1.9"/><circle cx="1734.4" cy="736.7" r="1.9"/><circle cx="1727.2" cy="776.1" r="1.9"/><circle cx="1725.7" cy="769.2" r="1.9"/><circle cx="1787.0" cy="753.3" r="1.9"/><circle cx="1690.0" cy="773.5" r="1.9"/><circle cx="1710.0" cy="739.5" r="1.9"/><circle cx="1747.8" cy="743.5" r="1.9"/><circle cx="1737.2" cy="824.7" r="1.9"/><circle cx="1756.2" cy="764.5" r="1.9"/><circle cx="1758.3" cy="810.2" r="1.9"/><circle cx="1742.5" cy="789.4" r="1.9"/><circle cx="1714.1" cy="753.9" r="1.9"/><circle cx="1752.5" cy="797.1" r="1.9"/><circle cx="1718.2" cy="731.7" r="1.9"/><circle cx="1737.5" cy="834.9" r="1.9"/><circle cx="1707.6" cy="750.8" r="1.9"/><circle cx="1801.3" cy="744.0" r="1.9"/><circle cx="1753.0" cy="764.9" r="1.9"/><circle cx="1700.4" cy="775.5" r="1.9"/><circle cx="1727.2" cy="789.4" r="1.9"/><circle cx="1741.8" cy="780.5" r="1.9"/><circle cx="1752.0" cy="728.0" r="1.9"/><circle cx="1766.9" cy="760.6" r="1.9"/><circle cx="1730.6" cy="812.1" r="1.9"/><circle cx="1735.3" cy="751.7" r="1.9"/><circle cx="1702.3" cy="725.2" r="1.9"/><circle cx="1727.2" cy="755.5" r="1.9"/><circle cx="1727.4" cy="803.8" r="1.9"/><circle cx="1815.9" cy="815.5" r="1.9"/><circle cx="1773.4" cy="790.6" r="1.9"/><circle cx="1749.8" cy="794.1" r="1.9"/><circle cx="1724.1" cy="738.7" r="1.9"/><circle cx="1811.4" cy="805.4" r="1.9"/><circle cx="1739.9" cy="740.5" r="1.9"/><circle cx="1716.2" cy="743.6" r="1.9"/><circle cx="1710.5" cy="745.9" r="1.9"/><circle cx="1755.6" cy="735.2" r="1.9"/><circle cx="1752.9" cy="806.1" r="1.9"/><circle cx="1764.0" cy="805.2" r="1.9"/><circle cx="1767.2" cy="728.3" r="1.9"/><circle cx="1761.5" cy="788.5" r="1.9"/><circle cx="1783.5" cy="770.8" r="1.9"/><circle cx="1693.5" cy="771.5" r="1.9"/><circle cx="1791.9" cy="786.1" r="1.9"/><circle cx="1744.0" cy="779.4" r="1.9"/><circle cx="1677.2" cy="773.5" r="1.9"/><circle cx="1752.7" cy="764.5" r="1.9"/><circle cx="1733.1" cy="830.8" r="1.9"/><circle cx="1784.6" cy="754.6" r="1.9"/><circle cx="1777.3" cy="736.1" r="1.9"/><circle cx="1723.1" cy="783.7" r="1.9"/><circle cx="1751.1" cy="720.8" r="1.9"/><circle cx="1677.2" cy="765.1" r="1.9"/><circle cx="1713.1" cy="747.6" r="1.9"/><circle cx="1793.6" cy="786.1" r="1.9"/><circle cx="1693.7" cy="759.5" r="1.9"/><circle cx="1729.0" cy="812.5" r="1.9"/><circle cx="1772.2" cy="789.4" r="1.9"/><circle cx="1764.7" cy="811.7" r="1.9"/><circle cx="1780.0" cy="817.9" r="1.9"/><circle cx="1778.4" cy="828.6" r="1.9"/><circle cx="1790.5" cy="788.0" r="1.9"/><circle cx="1682.0" cy="766.1" r="1.9"/><circle cx="1752.0" cy="799.9" r="1.9"/><circle cx="1721.3" cy="757.5" r="1.9"/><circle cx="1723.6" cy="753.3" r="1.9"/><circle cx="1750.5" cy="740.4" r="1.9"/><circle cx="1769.1" cy="764.1" r="1.9"/><circle cx="1779.6" cy="746.8" r="1.9"/><circle cx="1743.3" cy="787.5" r="1.9"/><circle cx="1777.3" cy="762.2" r="1.9"/><circle cx="1669.6" cy="789.8" r="1.9"/><circle cx="1756.8" cy="768.1" r="1.9"/><circle cx="1749.8" cy="751.2" r="1.9"/><circle cx="1744.9" cy="722.5" r="1.9"/><circle cx="1717.7" cy="776.8" r="1.9"/><circle cx="1751.4" cy="748.4" r="1.9"/><circle cx="1768.6" cy="729.2" r="1.9"/><circle cx="1721.9" cy="731.0" r="1.9"/><circle cx="1756.8" cy="802.3" r="1.9"/><circle cx="1734.4" cy="705.8" r="1.9"/><circle cx="1768.5" cy="787.2" r="1.9"/><circle cx="1650.9" cy="775.8" r="1.9"/><circle cx="1713.6" cy="762.0" r="1.9"/><circle cx="1824.8" cy="760.4" r="1.9"/><circle cx="1751.1" cy="798.1" r="1.9"/><circle cx="1695.7" cy="767.5" r="1.9"/><circle cx="1724.6" cy="784.3" r="1.9"/><circle cx="1781.2" cy="773.1" r="1.9"/><circle cx="1693.9" cy="722.8" r="1.9"/><circle cx="1728.0" cy="806.0" r="1.9"/><circle cx="1751.4" cy="756.0" r="1.9"/><circle cx="1727.0" cy="745.8" r="1.9"/><circle cx="1769.8" cy="799.6" r="1.9"/><circle cx="1734.8" cy="731.3" r="1.9"/><circle cx="1776.5" cy="733.3" r="1.9"/><circle cx="1808.1" cy="779.3" r="1.9"/><circle cx="1778.5" cy="820.2" r="1.9"/><circle cx="1765.0" cy="761.0" r="1.9"/><circle cx="1736.0" cy="781.1" r="1.9"/><circle cx="1698.3" cy="757.6" r="1.9"/><circle cx="1786.7" cy="787.1" r="1.9"/><circle cx="1759.1" cy="791.4" r="1.9"/><circle cx="1748.9" cy="799.9" r="1.9"/><circle cx="1753.5" cy="777.3" r="1.9"/><circle cx="1751.2" cy="788.4" r="1.9"/><circle cx="1696.1" cy="771.1" r="1.9"/><circle cx="1777.8" cy="728.0" r="1.9"/><circle cx="1727.5" cy="742.8" r="1.9"/><circle cx="1767.5" cy="761.5" r="1.9"/><circle cx="1682.2" cy="749.5" r="1.9"/><circle cx="1703.7" cy="727.8" r="1.9"/><circle cx="1768.6" cy="755.0" r="1.9"/><circle cx="1765.3" cy="810.6" r="1.9"/><circle cx="1775.3" cy="772.1" r="1.9"/><circle cx="1732.7" cy="788.6" r="1.9"/><circle cx="1701.9" cy="775.2" r="1.9"/><circle cx="1747.2" cy="789.0" r="1.9"/><circle cx="1716.7" cy="781.1" r="1.9"/><circle cx="1706.8" cy="737.2" r="1.9"/><circle cx="1729.5" cy="741.2" r="1.9"/><circle cx="1696.8" cy="734.0" r="1.9"/><circle cx="1738.5" cy="748.6" r="1.9"/><circle cx="1735.7" cy="794.2" r="1.9"/><circle cx="1784.2" cy="788.8" r="1.9"/><circle cx="1734.1" cy="793.9" r="1.9"/><circle cx="1747.1" cy="781.3" r="1.9"/><circle cx="1749.9" cy="760.0" r="1.9"/><circle cx="1714.1" cy="806.2" r="1.9"/><circle cx="1755.5" cy="743.9" r="1.9"/><circle cx="1765.2" cy="806.7" r="1.9"/><circle cx="1761.9" cy="760.8" r="1.9"/><circle cx="1750.0" cy="757.5" r="1.9"/><circle cx="1727.5" cy="760.2" r="1.9"/><circle cx="1773.7" cy="789.1" r="1.9"/><circle cx="1686.3" cy="762.9" r="1.9"/><circle cx="1746.7" cy="824.4" r="1.9"/><circle cx="1714.5" cy="746.9" r="1.9"/><circle cx="1734.0" cy="764.9" r="1.9"/><circle cx="1693.0" cy="734.0" r="1.9"/><circle cx="1804.3" cy="785.1" r="1.9"/><circle cx="1712.5" cy="798.4" r="1.9"/><circle cx="1772.4" cy="770.8" r="1.9"/><circle cx="1710.2" cy="727.7" r="1.9"/><circle cx="1767.7" cy="755.3" r="1.9"/><circle cx="1674.5" cy="760.9" r="1.9"/><circle cx="1762.6" cy="808.6" r="1.9"/><circle cx="1773.8" cy="731.7" r="1.9"/><circle cx="1777.7" cy="796.2" r="1.9"/><circle cx="1713.4" cy="736.3" r="1.9"/><circle cx="1776.2" cy="738.1" r="1.9"/><circle cx="1783.9" cy="778.7" r="1.9"/><circle cx="1724.4" cy="821.0" r="1.9"/><circle cx="1768.5" cy="705.8" r="1.9"/><circle cx="1722.4" cy="779.8" r="1.9"/><circle cx="1763.5" cy="761.3" r="1.9"/><circle cx="1688.9" cy="781.4" r="1.9"/><circle cx="1698.9" cy="701.9" r="1.9"/><circle cx="1713.0" cy="738.9" r="1.9"/><circle cx="1810.3" cy="723.9" r="1.9"/><circle cx="1792.2" cy="728.8" r="1.9"/><circle cx="1693.9" cy="771.3" r="1.9"/><circle cx="1712.6" cy="772.7" r="1.9"/><circle cx="1760.1" cy="808.5" r="1.9"/><circle cx="1789.0" cy="738.1" r="1.9"/><circle cx="1720.6" cy="704.0" r="1.9"/><circle cx="1742.3" cy="730.3" r="1.9"/><circle cx="1751.0" cy="787.0" r="1.9"/><circle cx="1725.4" cy="769.7" r="1.9"/><circle cx="1762.3" cy="768.5" r="1.9"/><circle cx="1826.7" cy="788.5" r="1.9"/><circle cx="1722.3" cy="787.0" r="1.9"/><circle cx="1710.8" cy="806.5" r="1.9"/><circle cx="1703.1" cy="735.7" r="1.9"/><circle cx="1741.7" cy="774.0" r="1.9"/><circle cx="1752.4" cy="739.0" r="1.9"/><circle cx="1762.2" cy="749.3" r="1.9"/><circle cx="1718.8" cy="772.9" r="1.9"/><circle cx="1710.8" cy="766.7" r="1.9"/><circle cx="1709.3" cy="774.6" r="1.9"/><circle cx="1733.0" cy="773.9" r="1.9"/><circle cx="1729.7" cy="781.5" r="1.9"/><circle cx="1787.9" cy="786.6" r="1.9"/><circle cx="1702.1" cy="756.7" r="1.9"/><circle cx="1699.3" cy="793.7" r="1.9"/><circle cx="1742.6" cy="818.5" r="1.9"/><circle cx="1777.7" cy="824.3" r="1.9"/><circle cx="1706.4" cy="746.0" r="1.9"/><circle cx="1666.1" cy="782.4" r="1.9"/><circle cx="1695.0" cy="767.1" r="1.9"/><circle cx="1666.6" cy="730.0" r="1.9"/><circle cx="1734.2" cy="758.7" r="1.9"/><circle cx="1727.4" cy="829.4" r="1.9"/><circle cx="1733.9" cy="807.3" r="1.9"/><circle cx="1739.9" cy="793.9" r="1.9"/><circle cx="1727.8" cy="772.8" r="1.9"/><circle cx="1768.0" cy="750.4" r="1.9"/><circle cx="1702.4" cy="762.9" r="1.9"/><circle cx="1793.4" cy="762.7" r="1.9"/><circle cx="1712.6" cy="767.7" r="1.9"/><circle cx="1726.7" cy="738.5" r="1.9"/><circle cx="1740.7" cy="757.6" r="1.9"/><circle cx="1664.9" cy="795.1" r="1.9"/><circle cx="1730.5" cy="681.1" r="1.9"/><circle cx="1788.4" cy="736.4" r="1.9"/><circle cx="1760.3" cy="729.2" r="1.9"/><circle cx="1717.5" cy="746.2" r="1.9"/><circle cx="1717.5" cy="709.0" r="1.9"/><circle cx="1707.7" cy="726.9" r="1.9"/><circle cx="1678.2" cy="701.4" r="1.9"/><circle cx="1702.6" cy="745.2" r="1.9"/><circle cx="1694.9" cy="686.5" r="1.9"/><circle cx="1682.2" cy="723.0" r="1.9"/><circle cx="1742.3" cy="775.6" r="1.9"/><circle cx="1740.5" cy="792.1" r="1.9"/><circle cx="1685.5" cy="725.1" r="1.9"/><circle cx="1737.0" cy="696.6" r="1.9"/><circle cx="1753.0" cy="679.7" r="1.9"/><circle cx="1738.5" cy="749.9" r="1.9"/><circle cx="1709.3" cy="779.1" r="1.9"/><circle cx="1709.7" cy="764.7" r="1.9"/><circle cx="1676.4" cy="822.2" r="1.9"/><circle cx="1696.7" cy="729.4" r="1.9"/><circle cx="1723.1" cy="711.7" r="1.9"/><circle cx="1707.7" cy="768.9" r="1.9"/><circle cx="1731.3" cy="723.7" r="1.9"/><circle cx="1670.5" cy="788.6" r="1.9"/><circle cx="1664.4" cy="672.9" r="1.9"/><circle cx="1766.0" cy="808.9" r="1.9"/><circle cx="1721.5" cy="711.1" r="1.9"/><circle cx="1782.6" cy="807.3" r="1.9"/><circle cx="1703.8" cy="677.4" r="1.9"/><circle cx="1658.6" cy="696.6" r="1.9"/><circle cx="1700.8" cy="740.0" r="1.9"/><circle cx="1682.6" cy="749.2" r="1.9"/><circle cx="1715.3" cy="666.0" r="1.9"/><circle cx="1751.0" cy="744.0" r="1.9"/><circle cx="1717.2" cy="778.4" r="1.9"/><circle cx="1704.3" cy="685.1" r="1.9"/><circle cx="1757.6" cy="680.1" r="1.9"/><circle cx="1729.0" cy="752.4" r="1.9"/><circle cx="1684.2" cy="729.1" r="1.9"/><circle cx="1648.0" cy="732.6" r="1.9"/><circle cx="1669.1" cy="672.1" r="1.9"/><circle cx="1728.3" cy="802.8" r="1.9"/><circle cx="1691.4" cy="781.2" r="1.9"/><circle cx="1745.5" cy="767.9" r="1.9"/><circle cx="1721.5" cy="773.6" r="1.9"/><circle cx="1687.2" cy="750.7" r="1.9"/><circle cx="1736.1" cy="830.4" r="1.9"/><circle cx="1721.0" cy="697.1" r="1.9"/><circle cx="1727.8" cy="694.3" r="1.9"/><circle cx="1702.4" cy="738.1" r="1.9"/><circle cx="1650.6" cy="751.7" r="1.9"/><circle cx="1624.3" cy="738.1" r="1.9"/><circle cx="1728.1" cy="728.5" r="1.9"/><circle cx="1774.3" cy="768.6" r="1.9"/><circle cx="1666.1" cy="701.2" r="1.9"/><circle cx="1708.6" cy="663.4" r="1.9"/><circle cx="1658.8" cy="739.3" r="1.9"/><circle cx="1725.4" cy="780.9" r="1.9"/><circle cx="1742.2" cy="728.2" r="1.9"/><circle cx="1758.0" cy="756.1" r="1.9"/><circle cx="1671.5" cy="759.5" r="1.9"/><circle cx="1709.7" cy="683.9" r="1.9"/><circle cx="1795.0" cy="742.0" r="1.9"/><circle cx="1734.1" cy="724.6" r="1.9"/><circle cx="1757.2" cy="709.3" r="1.9"/><circle cx="1763.8" cy="752.2" r="1.9"/><circle cx="1692.8" cy="710.4" r="1.9"/><circle cx="1730.3" cy="754.6" r="1.9"/><circle cx="1743.8" cy="761.1" r="1.9"/><circle cx="1752.0" cy="755.2" r="1.9"/><circle cx="1737.3" cy="771.1" r="1.9"/><circle cx="1682.8" cy="705.5" r="1.9"/><circle cx="1698.0" cy="728.1" r="1.9"/><circle cx="1722.7" cy="819.2" r="1.9"/><circle cx="1720.7" cy="714.3" r="1.9"/><circle cx="1680.5" cy="737.6" r="1.9"/><circle cx="1686.0" cy="700.1" r="1.9"/><circle cx="1784.4" cy="786.4" r="1.9"/><circle cx="1765.3" cy="758.9" r="1.9"/><circle cx="1705.6" cy="752.1" r="1.9"/><circle cx="1673.1" cy="667.4" r="1.9"/><circle cx="1760.1" cy="811.1" r="1.9"/><circle cx="1758.2" cy="798.1" r="1.9"/><circle cx="1725.9" cy="710.6" r="1.9"/><circle cx="1741.6" cy="707.4" r="1.9"/><circle cx="1733.3" cy="728.5" r="1.9"/><circle cx="1728.4" cy="703.4" r="1.9"/><circle cx="1696.2" cy="690.7" r="1.9"/><circle cx="1791.5" cy="785.7" r="1.9"/><circle cx="1738.0" cy="778.5" r="1.9"/><circle cx="1701.4" cy="726.3" r="1.9"/><circle cx="1698.7" cy="775.0" r="1.9"/><circle cx="1714.4" cy="735.9" r="1.9"/><circle cx="1732.1" cy="722.1" r="1.9"/><circle cx="1707.2" cy="774.4" r="1.9"/><circle cx="1697.2" cy="716.3" r="1.9"/><circle cx="1759.6" cy="782.9" r="1.9"/><circle cx="1723.8" cy="818.6" r="1.9"/><circle cx="1724.4" cy="754.1" r="1.9"/><circle cx="1694.2" cy="695.4" r="1.9"/><circle cx="1805.9" cy="745.1" r="1.9"/><circle cx="1699.1" cy="738.3" r="1.9"/><circle cx="1686.7" cy="710.4" r="1.9"/><circle cx="1743.7" cy="752.6" r="1.9"/><circle cx="1705.3" cy="745.9" r="1.9"/><circle cx="1695.7" cy="692.5" r="1.9"/><circle cx="1689.7" cy="738.3" r="1.9"/><circle cx="1705.4" cy="772.4" r="1.9"/><circle cx="1704.4" cy="803.2" r="1.9"/><circle cx="1736.3" cy="731.6" r="1.9"/><circle cx="1700.8" cy="669.7" r="1.9"/><circle cx="1674.7" cy="700.1" r="1.9"/><circle cx="1739.8" cy="780.3" r="1.9"/><circle cx="1703.8" cy="700.1" r="1.9"/><circle cx="1719.0" cy="734.2" r="1.9"/><circle cx="1785.9" cy="770.7" r="1.9"/><circle cx="1632.2" cy="735.0" r="1.9"/><circle cx="1757.6" cy="771.6" r="1.9"/><circle cx="1661.9" cy="803.9" r="1.9"/><circle cx="1732.0" cy="687.8" r="1.9"/><circle cx="1653.2" cy="807.8" r="1.9"/><circle cx="1740.7" cy="781.0" r="1.9"/><circle cx="1701.2" cy="751.6" r="1.9"/><circle cx="1670.8" cy="703.2" r="1.9"/><circle cx="1761.8" cy="752.2" r="1.9"/><circle cx="1688.1" cy="685.9" r="1.9"/><circle cx="1710.4" cy="717.0" r="1.9"/><circle cx="1669.2" cy="693.0" r="1.9"/><circle cx="1753.0" cy="707.6" r="1.9"/><circle cx="1717.3" cy="726.4" r="1.9"/><circle cx="1687.2" cy="692.2" r="1.9"/><circle cx="1754.6" cy="717.6" r="1.9"/><circle cx="1696.7" cy="788.2" r="1.9"/><circle cx="1712.5" cy="752.3" r="1.9"/><circle cx="1678.8" cy="700.1" r="1.9"/><circle cx="1763.1" cy="751.5" r="1.9"/><circle cx="1771.2" cy="755.6" r="1.9"/><circle cx="1667.4" cy="745.9" r="1.9"/><circle cx="1698.3" cy="706.5" r="1.9"/><circle cx="1761.7" cy="762.1" r="1.9"/><circle cx="1766.3" cy="805.8" r="1.9"/><circle cx="1710.3" cy="677.5" r="1.9"/><circle cx="1738.0" cy="710.8" r="1.9"/><circle cx="1673.1" cy="680.0" r="1.9"/><circle cx="1667.1" cy="764.2" r="1.9"/><circle cx="1671.7" cy="698.8" r="1.9"/><circle cx="1700.4" cy="656.1" r="1.9"/><circle cx="1751.7" cy="792.4" r="1.9"/><circle cx="1727.7" cy="757.5" r="1.9"/><circle cx="1755.1" cy="725.5" r="1.9"/><circle cx="1698.8" cy="697.9" r="1.9"/><circle cx="1744.2" cy="762.8" r="1.9"/><circle cx="1728.7" cy="722.0" r="1.9"/><circle cx="1700.3" cy="766.1" r="1.9"/><circle cx="1778.8" cy="776.3" r="1.9"/><circle cx="1686.7" cy="710.3" r="1.9"/><circle cx="1643.1" cy="705.9" r="1.9"/><circle cx="1648.8" cy="729.5" r="1.9"/><circle cx="1627.9" cy="731.5" r="1.9"/><circle cx="1760.3" cy="774.9" r="1.9"/><circle cx="1685.0" cy="665.6" r="1.9"/><circle cx="1690.1" cy="794.7" r="1.9"/><circle cx="1753.6" cy="712.6" r="1.9"/><circle cx="1651.3" cy="709.2" r="1.9"/><circle cx="1687.7" cy="704.7" r="1.9"/><circle cx="1715.5" cy="798.7" r="1.9"/><circle cx="1719.0" cy="713.6" r="1.9"/><circle cx="1701.6" cy="713.5" r="1.9"/><circle cx="1689.9" cy="733.9" r="1.9"/><circle cx="1733.3" cy="747.4" r="1.9"/><circle cx="1778.7" cy="735.6" r="1.9"/><circle cx="1757.7" cy="734.8" r="1.9"/><circle cx="1723.8" cy="798.5" r="1.9"/><circle cx="1768.5" cy="696.7" r="1.9"/><circle cx="1727.2" cy="761.3" r="1.9"/><circle cx="1714.4" cy="692.3" r="1.9"/><circle cx="1730.3" cy="794.0" r="1.9"/><circle cx="1707.7" cy="773.4" r="1.9"/><circle cx="1706.3" cy="778.1" r="1.9"/><circle cx="1668.0" cy="739.7" r="1.9"/><circle cx="1697.1" cy="794.3" r="1.9"/><circle cx="1750.4" cy="732.2" r="1.9"/><circle cx="1698.2" cy="763.8" r="1.9"/><circle cx="1719.2" cy="740.0" r="1.9"/><circle cx="1742.3" cy="762.6" r="1.9"/><circle cx="1695.8" cy="777.0" r="1.9"/><circle cx="1681.6" cy="760.1" r="1.9"/><circle cx="1791.6" cy="762.2" r="1.9"/><circle cx="1726.7" cy="741.7" r="1.9"/><circle cx="1697.6" cy="666.8" r="1.9"/><circle cx="1741.3" cy="758.6" r="1.9"/><circle cx="1710.2" cy="733.3" r="1.9"/><circle cx="1660.2" cy="730.3" r="1.9"/><circle cx="1685.6" cy="703.0" r="1.9"/><circle cx="1705.3" cy="697.1" r="1.9"/><circle cx="1652.7" cy="763.4" r="1.9"/><circle cx="1765.4" cy="775.0" r="1.9"/><circle cx="1694.1" cy="785.6" r="1.9"/><circle cx="1724.6" cy="772.8" r="1.9"/><circle cx="1726.7" cy="731.9" r="1.9"/><circle cx="1750.8" cy="776.0" r="1.9"/><circle cx="1690.5" cy="730.6" r="1.9"/><circle cx="1711.4" cy="735.0" r="1.9"/><circle cx="1690.3" cy="741.9" r="1.9"/><circle cx="1687.5" cy="755.5" r="1.9"/><circle cx="1724.0" cy="699.4" r="1.9"/><circle cx="1690.0" cy="706.7" r="1.9"/><circle cx="1733.2" cy="748.7" r="1.9"/><circle cx="1749.6" cy="785.4" r="1.9"/><circle cx="1744.0" cy="746.0" r="1.9"/><circle cx="1745.7" cy="676.1" r="1.9"/><circle cx="1664.1" cy="714.5" r="1.9"/><circle cx="1733.5" cy="794.9" r="1.9"/><circle cx="1775.3" cy="755.2" r="1.9"/><circle cx="1677.1" cy="776.4" r="1.9"/><circle cx="1711.0" cy="769.3" r="1.9"/><circle cx="1746.0" cy="755.6" r="1.9"/><circle cx="1730.4" cy="740.6" r="1.9"/><circle cx="1693.6" cy="685.0" r="1.9"/><circle cx="1750.3" cy="760.3" r="1.9"/><circle cx="1723.1" cy="750.3" r="1.9"/><circle cx="1737.4" cy="824.5" r="1.9"/><circle cx="1738.9" cy="758.3" r="1.9"/><circle cx="1764.4" cy="782.9" r="1.9"/><circle cx="1705.3" cy="771.5" r="1.9"/><circle cx="1725.1" cy="754.7" r="1.9"/><circle cx="1683.9" cy="743.5" r="1.9"/><circle cx="1679.0" cy="699.4" r="1.9"/><circle cx="1665.3" cy="786.1" r="1.9"/><circle cx="1668.6" cy="674.5" r="1.9"/><circle cx="1691.1" cy="704.5" r="1.9"/><circle cx="1752.5" cy="785.0" r="1.9"/><circle cx="1753.5" cy="741.9" r="1.9"/><circle cx="1714.0" cy="774.1" r="1.9"/><circle cx="1713.2" cy="798.5" r="1.9"/><circle cx="1702.5" cy="763.0" r="1.9"/><circle cx="1737.8" cy="741.0" r="1.9"/><circle cx="1684.4" cy="691.7" r="1.9"/><circle cx="1775.1" cy="771.7" r="1.9"/><circle cx="1679.5" cy="704.8" r="1.9"/><circle cx="1744.9" cy="673.2" r="1.9"/><circle cx="1679.6" cy="660.7" r="1.9"/><circle cx="1725.6" cy="705.9" r="1.9"/><circle cx="1707.3" cy="767.0" r="1.9"/><circle cx="1704.8" cy="674.4" r="1.9"/><circle cx="1757.8" cy="778.5" r="1.9"/><circle cx="1735.0" cy="717.1" r="1.9"/><circle cx="1744.2" cy="760.9" r="1.9"/><circle cx="1683.4" cy="760.6" r="1.9"/><circle cx="1694.4" cy="757.9" r="1.9"/><circle cx="1637.6" cy="766.6" r="1.9"/><circle cx="1759.7" cy="815.2" r="1.9"/><circle cx="1650.8" cy="714.1" r="1.9"/><circle cx="1788.0" cy="726.5" r="1.9"/><circle cx="1695.5" cy="779.4" r="1.9"/><circle cx="1689.3" cy="770.9" r="1.9"/><circle cx="1688.7" cy="710.4" r="1.9"/><circle cx="1663.0" cy="752.1" r="1.9"/><circle cx="1703.1" cy="739.6" r="1.9"/><circle cx="1563.5" cy="642.5" r="1.9"/><circle cx="1565.5" cy="643.8" r="1.9"/><circle cx="1573.5" cy="633.0" r="1.9"/><circle cx="1572.8" cy="649.5" r="1.9"/><circle cx="1596.5" cy="635.5" r="1.9"/><circle cx="1595.2" cy="666.2" r="1.9"/><circle cx="1593.5" cy="691.2" r="1.9"/><circle cx="1608.5" cy="687.0" r="1.9"/><circle cx="1616.0" cy="678.8" r="1.9"/><circle cx="1609.2" cy="709.2" r="1.9"/><circle cx="1577.8" cy="701.2" r="1.9"/><circle cx="1583.0" cy="718.2" r="1.9"/><circle cx="1571.0" cy="722.5" r="1.9"/><circle cx="1568.5" cy="742.0" r="1.9"/><circle cx="1559.8" cy="756.2" r="1.9"/><circle cx="1579.8" cy="772.5" r="1.9"/><circle cx="1616.0" cy="733.2" r="1.9"/><circle cx="1618.0" cy="723.0" r="1.9"/><circle cx="1618.0" cy="800.0" r="1.9"/><circle cx="1633.5" cy="820.0" r="1.9"/><circle cx="1621.5" cy="652.0" r="1.9"/><circle cx="1623.0" cy="648.8" r="1.9"/><circle cx="1627.2" cy="653.0" r="1.9"/><circle cx="1621.5" cy="667.5" r="1.9"/><circle cx="1621.5" cy="670.0" r="1.9"/><circle cx="1634.8" cy="667.5" r="1.9"/><circle cx="1624.8" cy="692.0" r="1.9"/><circle cx="1632.5" cy="700.0" r="1.9"/><circle cx="1642.2" cy="696.2" r="1.9"/><circle cx="1644.8" cy="661.8" r="1.9"/><circle cx="1648.5" cy="619.0" r="1.9"/><circle cx="1669.0" cy="614.2" r="1.9"/><circle cx="1692.2" cy="618.0" r="1.9"/><circle cx="1689.8" cy="626.2" r="1.9"/><circle cx="1714.0" cy="619.5" r="1.9"/><circle cx="1721.5" cy="625.8" r="1.9"/><circle cx="1731.5" cy="625.8" r="1.9"/><circle cx="1699.8" cy="639.2" r="1.9"/><circle cx="1762.2" cy="624.5" r="1.9"/><circle cx="1788.5" cy="624.0" r="1.9"/><circle cx="1801.0" cy="629.8" r="1.9"/><circle cx="1830.2" cy="630.0" r="1.9"/><circle cx="1740.2" cy="641.2" r="1.9"/><circle cx="1757.8" cy="642.5" r="1.9"/><circle cx="1742.8" cy="648.0" r="1.9"/><circle cx="1793.0" cy="649.2" r="1.9"/><circle cx="1814.2" cy="646.2" r="1.9"/><circle cx="1754.0" cy="650.8" r="1.9"/><circle cx="1756.0" cy="656.2" r="1.9"/><circle cx="1696.5" cy="655.0" r="1.9"/><circle cx="1768.5" cy="663.0" r="1.9"/><circle cx="1774.8" cy="683.0" r="1.9"/><circle cx="1804.0" cy="690.5" r="1.9"/><circle cx="1785.5" cy="689.2" r="1.9"/><circle cx="1791.0" cy="692.5" r="1.9"/><circle cx="1798.0" cy="701.8" r="1.9"/><circle cx="1818.0" cy="708.2" r="1.9"/><circle cx="1815.5" cy="716.8" r="1.9"/><circle cx="1829.0" cy="740.8" r="1.9"/><circle cx="1818.0" cy="740.0" r="1.9"/><circle cx="1827.2" cy="753.8" r="1.9"/><circle cx="1826.0" cy="756.2" r="1.9"/><circle cx="1862.2" cy="799.5" r="1.9"/><circle cx="1860.5" cy="798.0" r="1.9"/><circle cx="1839.0" cy="782.5" r="1.9"/><circle cx="1837.2" cy="773.8" r="1.9"/><circle cx="1828.5" cy="781.2" r="1.9"/><circle cx="1829.8" cy="793.8" r="1.9"/><circle cx="1834.0" cy="795.5" r="1.9"/><circle cx="1667.2" cy="811.2" r="1.9"/><circle cx="1666.0" cy="813.0" r="1.9"/><circle cx="1672.2" cy="832.0" r="1.9"/><circle cx="1701.0" cy="830.8" r="1.9"/><circle cx="1827.2" cy="823.0" r="1.9"/><circle cx="1794.8" cy="823.0" r="1.9"/><circle cx="1802.2" cy="821.2" r="1.9"/><circle cx="1806.0" cy="822.5" r="1.9"/><circle cx="1641.0" cy="791.2" r="1.9"/><circle cx="1643.5" cy="781.2" r="1.9"/><circle cx="1630.5" cy="775.5" r="1.9"/><circle cx="1621.0" cy="775.5" r="1.9"/><circle cx="1626.0" cy="746.2" r="1.9"/><circle cx="1628.0" cy="756.2" r="1.9"/><circle cx="1632.2" cy="762.0" r="1.9"/><circle cx="1639.8" cy="747.5" r="1.9"/><circle cx="1643.5" cy="747.0" r="1.9"/><circle cx="1659.8" cy="787.0" r="1.9"/><circle cx="1664.8" cy="787.0" r="1.9"/><circle cx="1690.5" cy="812.0" r="1.9"/><circle cx="1700.5" cy="818.8" r="1.9"/><circle cx="1707.2" cy="812.0" r="1.9"/><circle cx="1596.0" cy="842.5" r="1.9"/><circle cx="1633.5" cy="820.0" r="1.9"/><circle cx="1641.0" cy="879.0" r="1.9"/><circle cx="1675.2" cy="878.8" r="1.9"/><circle cx="1679.0" cy="894.5" r="1.9"/><circle cx="1701.0" cy="830.5" r="1.9"/><circle cx="1700.5" cy="890.5" r="1.9"/><circle cx="1713.0" cy="841.2" r="1.9"/><circle cx="1715.2" cy="886.2" r="1.9"/><circle cx="1719.8" cy="884.2" r="1.9"/><circle cx="1724.0" cy="888.0" r="1.9"/><circle cx="1715.2" cy="917.5" r="1.9"/><circle cx="1722.2" cy="931.2" r="1.9"/><circle cx="1732.2" cy="851.2" r="1.9"/><circle cx="1734.0" cy="862.5" r="1.9"/><circle cx="1731.5" cy="901.8" r="1.9"/><circle cx="1738.0" cy="905.0" r="1.9"/><circle cx="1741.8" cy="877.5" r="1.9"/><circle cx="1742.2" cy="845.8" r="1.9"/><circle cx="1746.5" cy="870.8" r="1.9"/><circle cx="1742.2" cy="893.8" r="1.9"/><circle cx="1743.5" cy="896.2" r="1.9"/><circle cx="1746.5" cy="890.8" r="1.9"/><circle cx="1754.0" cy="831.8" r="1.9"/><circle cx="1757.2" cy="842.5" r="1.9"/><circle cx="1758.5" cy="846.2" r="1.9"/><circle cx="1761.5" cy="839.5" r="1.9"/><circle cx="1759.8" cy="907.5" r="1.9"/><circle cx="1765.5" cy="933.0" r="1.9"/><circle cx="1768.0" cy="906.2" r="1.9"/><circle cx="1772.2" cy="862.0" r="1.9"/><circle cx="1773.0" cy="834.2" r="1.9"/><circle cx="1776.0" cy="832.5" r="1.9"/><circle cx="1780.5" cy="839.2" r="1.9"/><circle cx="1779.2" cy="878.8" r="1.9"/><circle cx="1781.8" cy="865.8" r="1.9"/><circle cx="1789.2" cy="841.2" r="1.9"/><circle cx="1792.2" cy="936.2" r="1.9"/><circle cx="1794.8" cy="823.0" r="1.9"/><circle cx="1796.0" cy="813.0" r="1.9"/><circle cx="1802.2" cy="821.2" r="1.9"/><circle cx="1806.0" cy="822.5" r="1.9"/><circle cx="1807.2" cy="807.0" r="1.9"/><circle cx="1807.8" cy="896.2" r="1.9"/><circle cx="1812.8" cy="816.8" r="1.9"/><circle cx="1827.2" cy="823.0" r="1.9"/><circle cx="1837.2" cy="902.5" r="1.9"/><circle cx="1857.2" cy="893.8" r="1.9"/><circle cx="1869.2" cy="854.5" r="1.9"/><circle cx="1718.5" cy="828.2" r="1.9"/><circle cx="1726.0" cy="825.0" r="1.9"/><circle cx="1727.2" cy="828.0" r="1.9"/><circle cx="1734.8" cy="834.2" r="1.9"/><circle cx="1738.0" cy="833.8" r="1.9"/></g>
<rect x="1547.75" y="601.25" width="334.0" height="348.0" fill="none" stroke="#2a2a2a" stroke-width="1.25"/>
<path d="M1547.75,940.00H1540.25M1547.75,872.75H1540.25M1547.75,805.50H1540.25M1547.75,738.25H1540.25M1547.75,671.00H1540.25M1547.75,603.75H1540.25M1575.50,949.25V956.25M1649.38,949.25V956.25M1723.25,949.25V956.25M1797.12,949.25V956.25M1871.00,949.25V956.25" stroke="#2a2a2a" stroke-width="1.25" fill="none"/>
<text x="1534.7" y="949.40" text-anchor="end" font-family="Liberation Sans, Arial, sans-serif" font-size="23.5">0.0</text>
<text x="1534.7" y="882.15" text-anchor="end" font-family="Liberation Sans, Arial, sans-serif" font-size="23.5">0.2</text>
<text x="1534.7" y="814.90" text-anchor="end" font-family="Liberation Sans, Arial, sans-serif" font-size="23.5">0.4</text>
<text x="1534.7" y="747.65" text-anchor="end" font-family="Liberation Sans, Arial, sans-serif" font-size="23.5">0.6</text>
<text x="1534.7" y="680.40" text-anchor="end" font-family="Liberation Sans, Arial, sans-serif" font-size="23.5">0.8</text>
<text x="1534.7" y="613.15" text-anchor="end" font-family="Liberation Sans, Arial, sans-serif" font-size="23.5">1.0</text>
<text x="1575.50" y="982" text-anchor="middle" font-family="Liberation Sans, Arial, sans-serif" font-size="23.5">0.0</text>
<text x="1649.38" y="982" text-anchor="middle" font-family="Liberation Sans, Arial, sans-serif" font-size="23.5">0.1</text>
<text x="1723.25" y="982" text-anchor="middle" font-family="Liberation Sans, Arial, sans-serif" font-size="23.5">0.2</text>
<text x="1797.12" y="982" text-anchor="middle" font-family="Liberation Sans, Arial, sans-serif" font-size="23.5">0.3</text>
<text x="1871.00" y="982" text-anchor="middle" font-family="Liberation Sans, Arial, sans-serif" font-size="23.5">0.4</text>
<text x="1606" y="591" font-family="Liberation Sans, Arial, sans-serif" font-size="23.5">p&lt;0.001</text>
<text x="1713.5" y="591" font-family="Liberation Sans, Arial, sans-serif" font-size="23.5">R=-0.456</text>
<text x="1543" y="1014.5" font-family="Liberation Sans, Arial, sans-serif" font-size="23.9">Realtive circ_101237 expression</text>
<text transform="translate(1479.5,771.9) rotate(-90)" text-anchor="middle" font-family="Liberation Sans, Arial, sans-serif" font-size="23.8">Realtive miR-490-3p expression</text>
<text x="93.75" y="609.5" font-family="Liberation Sans, Arial, sans-serif" font-size="23.65">hsa_circ_101237</text>
<text x="285.2" y="609.5" font-family="Liberation Sans, Arial, sans-serif" font-size="23.95">5’-...CUCCUCUUAUGACAGCCAGGUUC...-3’(WT)</text>
<path d="M602.7,617.4V659M618,617.4V659M635.2,617.4V659M652.6,617.4V659M671.7,617.4V659M687,617.4V659M704.2,617.4V659" stroke="#000" stroke-width="4"/>
<text x="152.3" y="679.5" font-family="Liberation Sans, Arial, sans-serif" font-size="23.65">miR-490-3p</text>
<text x="324.3" y="682" font-family="Liberation Sans, Arial, sans-serif" font-size="23.95">3’-GUCGUACCUCAGGAGGUCCAAC</text>
<text x="93.75" y="725.75" font-family="Liberation Sans, Arial, sans-serif" font-size="23.65">hsa_circ_101237</text>
<text x="291.8" y="721.5" font-family="Liberation Sans, Arial, sans-serif" font-size="23.95">5’-...CUCCUCUUAUGACAG<tspan fill="#00ff00">GGCCCAA</tspan>C...-3’(MUT)</text>
<text transform="translate(1,69.4) scale(1,1.04)" font-family="Liberation Sans, Arial, sans-serif" font-size="72">A</text>
<text transform="translate(4.3,575) scale(1,1.04)" font-family="Liberation Sans, Arial, sans-serif" font-size="72">B</text>
<text transform="translate(938.8,68.6) scale(1,1.04)" font-family="Liberation Sans, Arial, sans-serif" font-size="72">C</text>
<text transform="translate(1393.9,69.1) scale(1,1.04)" font-family="Liberation Sans, Arial, sans-serif" font-size="72">D</text>
<text transform="translate(4.3,842.8) scale(1,1.04)" font-family="Liberation Sans, Arial, sans-serif" font-size="72">E</text>
<text transform="translate(483.1,842.8) scale(1,1.04)" font-family="Liberation Sans, Arial, sans-serif" font-size="72">F</text>
<text transform="translate(950.7,584.3) scale(1,1.04)" font-family="Liberation Sans, Arial, sans-serif" font-size="72">G</text>
<text transform="translate(1414.8,585.75) scale(1,1.04)" font-family="Liberation Sans, Arial, sans-serif" font-size="72">H</text>
</svg></body></html>
